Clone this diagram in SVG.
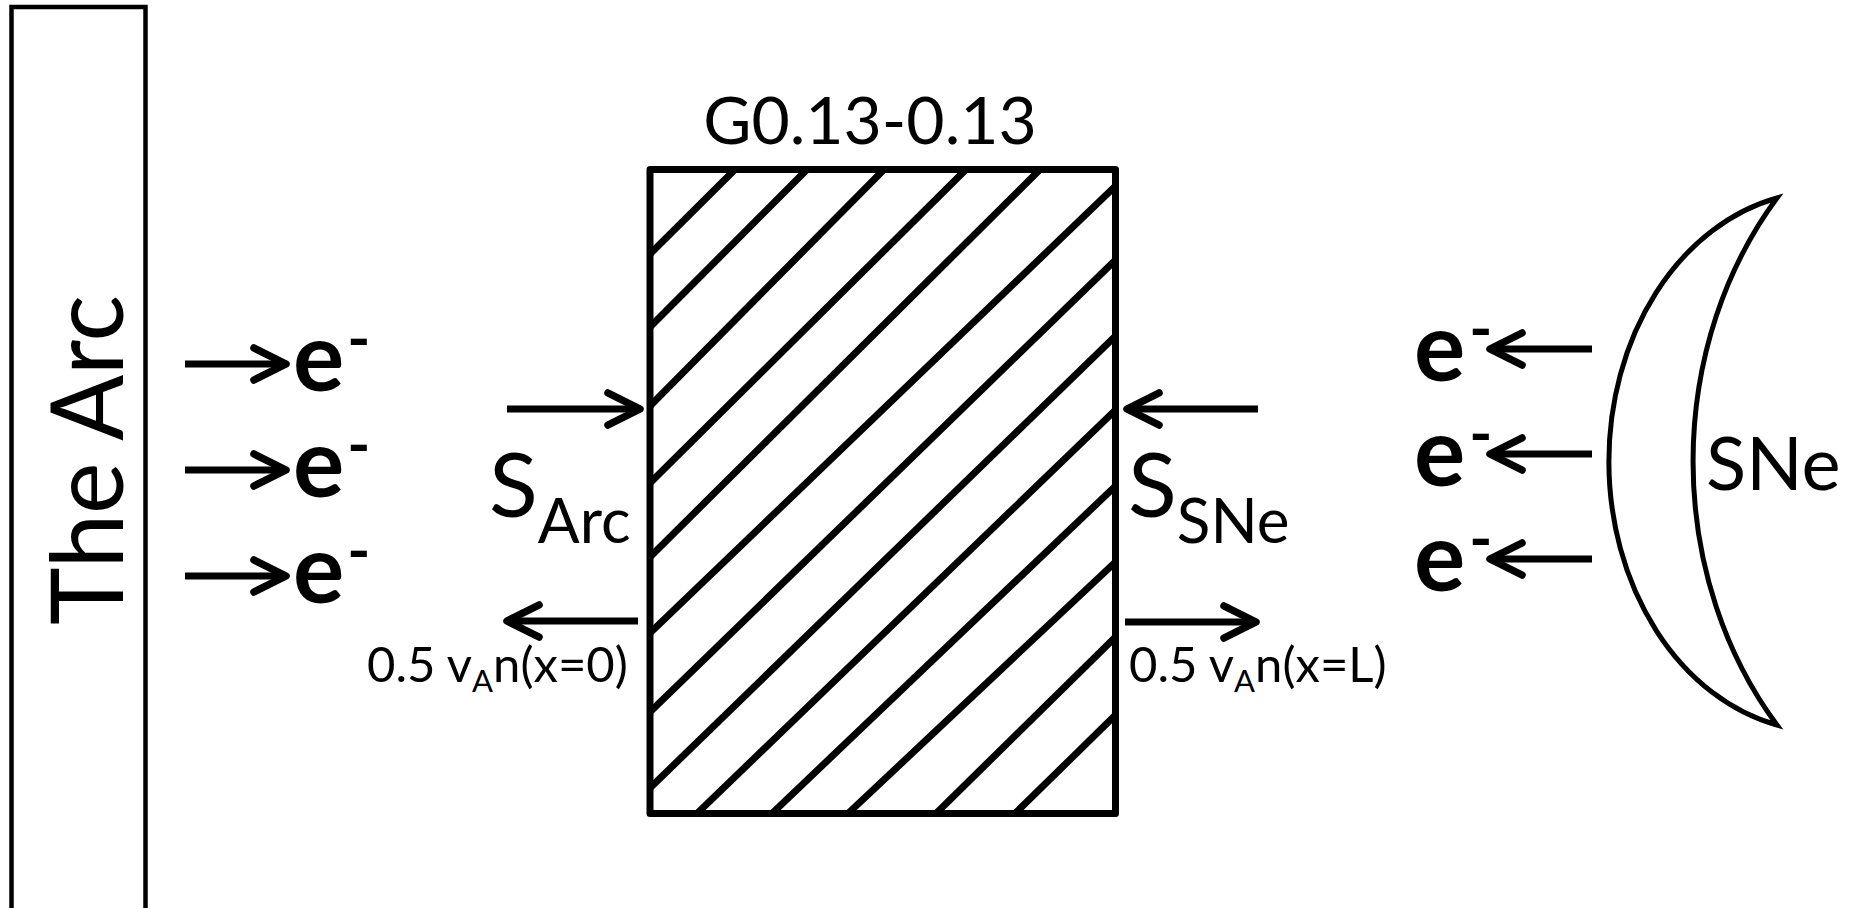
<svg xmlns="http://www.w3.org/2000/svg" width="1849" height="908" viewBox="0 0 1849 908">
<defs>
<marker id="ah" markerUnits="userSpaceOnUse" viewBox="-44 -22 48 44" markerWidth="48" markerHeight="44" refX="0" refY="0" orient="auto">
<path d="M-32,-16 L0,0 L-32,16" fill="none" stroke="#000" stroke-width="7.5" stroke-linecap="round" stroke-linejoin="round"/>
</marker>
</defs>
<style>
text{font-family:Lato,"Open Sans","Liberation Sans",sans-serif;fill:#000}
.arrow{stroke:#000;stroke-width:7;fill:none;marker-end:url(#ah)}
.hatch line{stroke:#000;stroke-width:7;stroke-linecap:butt}
.e{font-weight:700;font-size:96px}
.sup{font-size:62px}
.big{font-size:90px}
.sub{font-size:62px}
.flux{font-size:49px}
.fsub{font-size:31px}
</style>
<rect width="1849" height="908" fill="#fff"/>

<g id="the-arc">
<rect x="11.5" y="7" width="134" height="940" fill="#fff" stroke="#000" stroke-width="4.5"/>
<text transform="translate(123,460) rotate(-90)" text-anchor="middle" font-size="100" textLength="330" lengthAdjust="spacingAndGlyphs">The Arc</text>
</g>

<g id="electrons-arc">
<text class="e" x="293" y="391">e<tspan class="sup" dx="3" dy="-31">-</tspan></text>
<text class="e" x="293" y="497">e<tspan class="sup" dx="3" dy="-31">-</tspan></text>
<text class="e" x="293" y="603">e<tspan class="sup" dx="3" dy="-31">-</tspan></text>
</g>

<g id="region">
<text x="870" y="144" text-anchor="middle" font-size="66">G0.13-0.13</text>
<g class="hatch">
<line x1="650" y1="254" x2="735" y2="169.5"/>
<line x1="650" y1="327" x2="807" y2="169.5"/>
<line x1="650" y1="406" x2="884" y2="169.5"/>
<line x1="650" y1="483" x2="966" y2="169.5"/>
<line x1="650" y1="557" x2="1040" y2="169.5"/>
<line x1="650" y1="633" x2="1115.5" y2="186"/>
<line x1="650" y1="712" x2="1115.5" y2="260"/>
<line x1="650" y1="788" x2="1115.5" y2="336"/>
<line x1="697" y1="813.5" x2="1115.5" y2="410"/>
<line x1="772" y1="813.5" x2="1115.5" y2="486"/>
<line x1="848" y1="813.5" x2="1115.5" y2="562"/>
<line x1="936" y1="813.5" x2="1115.5" y2="637"/>
<line x1="1015" y1="813.5" x2="1115.5" y2="715"/>
</g>
<rect x="650" y="169.5" width="465.5" height="644" fill="none" stroke="#000" stroke-width="7" stroke-linejoin="round"/>
</g>

<g id="label-s-arc">
<text class="big" x="489" y="517">S<tspan class="sub" dy="26">Arc</tspan></text>
<text class="flux" x="367" y="682">0.5 v<tspan class="fsub" dy="10">A</tspan><tspan dy="-10">n(x=0)</tspan></text>
</g>

<g id="label-s-sne">
<text class="big" x="1128" y="517">S<tspan class="sub" dy="26">SNe</tspan></text>
<text class="flux" x="1129" y="682">0.5 v<tspan class="fsub" dy="10">A</tspan><tspan dy="-10">n(x=L)</tspan></text>
</g>

<g id="electrons-sne">
<text class="e" x="1414" y="381">e<tspan class="sup" dx="4" dy="-31">-</tspan></text>
<text class="e" x="1414" y="486">e<tspan class="sup" dx="4" dy="-31">-</tspan></text>
<text class="e" x="1414" y="591">e<tspan class="sup" dx="4" dy="-31">-</tspan></text>
</g>

<g id="sne">
<path d="M1777,198 A215,270 0 0 0 1777,725 A339,400 0 0 1 1777,198 Z" fill="#fff" stroke="#000" stroke-width="5" stroke-linejoin="miter"/>
<text x="1706" y="490" font-size="74">SNe</text>
</g>

<g id="connectors">
<line class="arrow" x1="185" y1="364" x2="286" y2="364"/>
<line class="arrow" x1="185" y1="470" x2="286" y2="470"/>
<line class="arrow" x1="185" y1="576" x2="286" y2="576"/>
<line class="arrow" x1="507" y1="409" x2="640" y2="409"/>
<line class="arrow" x1="638" y1="621" x2="507" y2="621"/>
<line class="arrow" x1="1258" y1="409" x2="1127" y2="409"/>
<line class="arrow" x1="1125" y1="622" x2="1256" y2="622"/>
<line class="arrow" x1="1592" y1="349" x2="1490" y2="349"/>
<line class="arrow" x1="1592" y1="454" x2="1490" y2="454"/>
<line class="arrow" x1="1592" y1="559" x2="1490" y2="559"/>
</g>
</svg>
